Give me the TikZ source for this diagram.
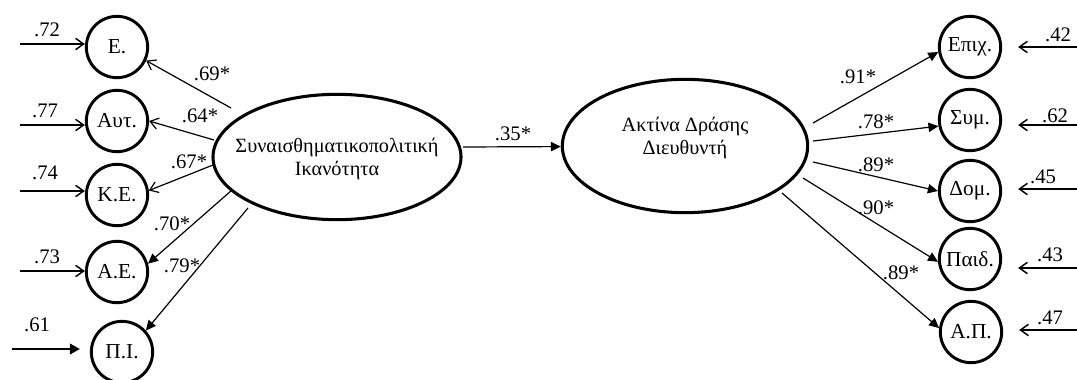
\documentclass[tikz,border=0pt]{standalone}
\usepackage{fontspec}
\setmainfont{Liberation Serif}
\usetikzlibrary{arrows.meta,shapes.geometric}
\begin{document}
\begin{tikzpicture}[x=0.75pt,y=-0.75pt,
  circ/.style={circle,draw,line width=2.2pt,minimum size=46pt,inner sep=0pt,font=\fontsize{16}{18}\selectfont},
  ell/.style={ellipse,draw,line width=2.3pt,inner sep=0pt},
  etext/.style={align=center,font=\fontsize{15.2}{17.5}\selectfont},
  lab/.style={font=\fontsize{15.5}{17}\selectfont,inner sep=0pt},
  openarr/.style={line width=0.9pt,-{Straight Barb[length=6pt,width=8.5pt,line width=0.9pt]}},
  fillarr/.style={line width=0.9pt,-{Triangle[length=7.5pt,width=7pt]}},
  erropen/.style={line width=1.3pt,-{Straight Barb[length=6pt,width=8.5pt,line width=1.1pt]}},
  errfill/.style={line width=1.3pt,-{Triangle[length=7.5pt,width=8pt]}}
]
\useasboundingbox (0,0) rectangle (1077,379);
% left indicators
\node[circ] (E) at (117,47) {Ε.};
\node[circ] (Aut) at (117,121) {Αυτ.};
\node[circ] (KE) at (117,195) {Κ.Ε.};
\node[circ] (AE) at (117,272) {Α.Ε.};
\node[circ] (PI) at (122,352) {Π.Ι.};
% right indicators
\node[circ] (Epix) at (970,47) {Επιχ.};
\node[circ] (Sym) at (970,120) {Συμ.};
\node[circ] (Dom) at (970,191) {Δομ.};
\node[circ] (Paid) at (970,259) {Παιδ.};
\node[circ] (AP) at (971,332) {Α.Π.};
% latent ellipses
\node[ell,minimum width=186pt,minimum height=94pt] (L) at (337,157) {};
\node[etext] (Ltext) at (337,159) {Συναισθηματικοπολιτική\\Ικανότητα};
\node[ell,minimum width=184pt,minimum height=100pt] (R) at (685,146) {};
\node[etext] (Rtext) at (685,138) {Ακτίνα Δράσης\\Διευθυντή};
% start coordinates
\coordinate (sE) at (231,108);
\coordinate (sAut) at (214,140);
\coordinate (sKE) at (213,165);
\coordinate (sAE) at (232,190);
\coordinate (sPI) at (248,208);
\coordinate (s35) at (463,147);
\coordinate (sEpix) at (813,123);
\coordinate (sSym) at (813,141);
\coordinate (sDom) at (813,162);
\coordinate (sPaid) at (803,178);
\coordinate (sAP) at (782,193);
% loadings
\draw[openarr] (sE) -- (E.-25);
\draw[openarr] (sAut) -- (Aut.east);
\draw[openarr] (sKE) -- (KE.8);
\draw[fillarr] (sAE) -- (AE.15);
\draw[fillarr] (sPI) -- (PI.42);
\draw[fillarr] (s35) -- (R);
\draw[fillarr] (sEpix) -- (Epix.189);
\draw[fillarr] (sSym) -- (Sym.191);
\draw[fillarr] (sDom) -- (Dom.west);
\draw[fillarr] (sPaid) -- (Paid.185);
\draw[fillarr] (sAP) -- (AP.173);
% error terms left
\coordinate (eE) at (20,44);
\coordinate (eAut) at (20,125);
\coordinate (eKE) at (20,191);
\coordinate (eAE) at (20,271);
\coordinate (ePI) at (12,349);
\draw[erropen] (eE) -- (E.west |- eE);
\draw[erropen] (eAut) -- (Aut.west |- eAut);
\draw[erropen] (eKE) -- (KE.west |- eKE);
\draw[erropen] (eAE) -- (AE.west |- eAE);
\draw[errfill,shorten >=7.5pt] (ePI) -- (PI.west |- ePI);
% error terms right
\coordinate (eEpix) at (1077,47);
\coordinate (eSym) at (1077,125);
\coordinate (eDom) at (1077,189);
\coordinate (ePaid) at (1077,268);
\coordinate (eAP) at (1077,330);
\draw[erropen,shorten >=12pt] (eEpix) -- (Epix.east |- eEpix);
\draw[erropen,shorten >=12pt] (eSym) -- (Sym.east |- eSym);
\draw[erropen,shorten >=12pt] (eDom) -- (Dom.east |- eDom);
\draw[erropen,shorten >=12pt] (ePaid) -- (Paid.east |- ePaid);
\draw[erropen,shorten >=12pt] (eAP) -- (AP.east |- eAP);
% labels
\node[lab] (l72) at (47,30) {.72};
\node[lab] (l77) at (45,111) {.77};
\node[lab] (l74) at (45,173) {.74};
\node[lab] (l73) at (47,257) {.73};
\node[lab] (l61) at (37,325) {.61};
\node[lab] (l42) at (1058,35) {.42};
\node[lab] (l62) at (1055,116) {.62};
\node[lab] (l45) at (1043,177) {.45};
\node[lab] (l43) at (1050,255) {.43};
\node[lab] (l47) at (1050,318) {.47};
\node[lab] (c69) at (212,74) {.69*};
\node[lab] (c64) at (200,116) {.64*};
\node[lab] (c67) at (189,162) {.67*};
\node[lab] (c70) at (172,224) {.70*};
\node[lab] (c79) at (182,266) {.79*};
\node[lab] (c35) at (513,134) {.35*};
\node[lab] (c91) at (858,77) {.91*};
\node[lab] (c78) at (876,122) {.78*};
\node[lab] (c89a) at (876,165) {.89*};
\node[lab] (c90) at (876,208) {.90*};
\node[lab] (c89b) at (901,273) {.89*};
\end{tikzpicture}
\end{document}
